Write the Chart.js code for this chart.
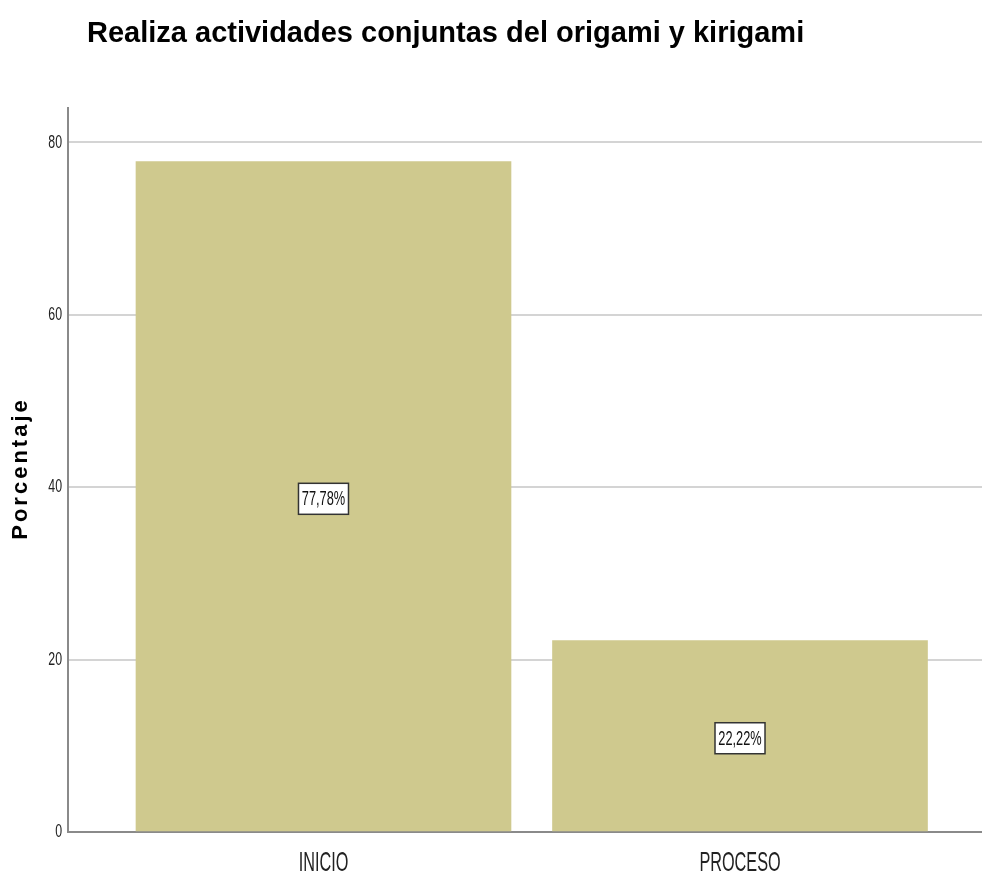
<!DOCTYPE html>
<html>
<head>
<meta charset="utf-8">
<script src="https://cdn.jsdelivr.net/npm/chart.js@4/dist/chart.umd.min.js"></script>
<style>
  html, body { margin: 0; padding: 0; background: #fff; }
  #wrap { position: relative; width: 982px; height: 876px; }
  #title { position: absolute; left: 87px; top: 15px; line-height: 34px; font-family: "Liberation Sans", Arial, sans-serif; font-weight: bold; font-size: 29px; color: #000; white-space: nowrap; }
</style>
</head>
<body>
<div id="wrap">
  <canvas id="c" width="982" height="876"></canvas>
  <div id="title">Realiza actividades conjuntas del origami y kirigami</div>
</div>
<script>
const categories = ["INICIO", "PROCESO"];
const percentages = [77.78, 22.22];
const yTicks = [0, 20, 40, 60, 80];
const yAxisTitle = "Porcentaje";

const sans = '"Liberation Sans", Arial, sans-serif';

function narrowText(ctx, txt, x, y, size, sx, align) {
  ctx.save();
  ctx.font = size + 'px ' + sans;
  ctx.textBaseline = 'middle';
  ctx.textAlign = align;
  ctx.translate(x, y);
  ctx.scale(sx, 1);
  ctx.fillText(txt, 0, 0);
  ctx.restore();
}

const textPlugin = {
  id: 'narrowTexts',
  afterDraw(chart) {
    const ctx = chart.ctx;
    const xs = chart.scales.x, ys = chart.scales.y;
    ctx.fillStyle = '#222';
    // y tick labels
    ys.ticks.forEach(t => {
      narrowText(ctx, String(t.value), xs.left - 6, ys.getPixelForValue(t.value), 19, 0.65, 'right');
    });
    // x category labels
    xs.ticks.forEach(t => {
      narrowText(ctx, categories[Math.round(t.value) - 1], xs.getPixelForValue(t.value), ys.bottom + 31, 28, 0.58, 'center');
    });
    // y axis title
    ctx.save();
    ctx.translate(21, (ys.top + ys.bottom) / 2);
    ctx.rotate(-Math.PI / 2);
    ctx.font = 'bold 22px ' + sans;
    ctx.letterSpacing = '3px';
    ctx.textAlign = 'center';
    ctx.textBaseline = 'middle';
    ctx.fillStyle = '#000';
    ctx.fillText(yAxisTitle, 1.5, 0);
    ctx.restore();
    // value boxes
    const meta = chart.getDatasetMeta(0);
    meta.data.forEach((bar, i) => {
      const v = percentages[i];
      const txt = v.toFixed(2).replace('.', ',') + '%';
      const cx = bar.x;
      const cy = ys.getPixelForValue(v / 2) + 2;
      const w = 50, h = 31;
      ctx.save();
      ctx.fillStyle = '#ffffff';
      ctx.fillRect(cx - w / 2, cy - h / 2, w, h);
      ctx.strokeStyle = '#333';
      ctx.lineWidth = 1.5;
      ctx.strokeRect(cx - w / 2, cy - h / 2, w, h);
      ctx.restore();
      ctx.fillStyle = '#111';
      narrowText(ctx, txt, cx, cy + 1, 20, 0.64, 'center');
    });
  }
};

new Chart(document.getElementById('c'), {
  type: 'bar',
  data: {
    datasets: [{
      data: percentages.map((v, i) => ({ x: i + 1, y: v })),
      backgroundColor: '#cfc98e',
      borderWidth: 0,
      barThickness: 375
    }]
  },
  options: {
    responsive: false,
    animation: false,
    layout: { padding: { top: 108, right: 0, left: 0, bottom: 0 } },
    plugins: { legend: { display: false }, tooltip: { enabled: false }, title: { display: false } },
    scales: {
      x: {
        type: 'linear',
        offset: false,
        min: 0.3866,
        max: 2.581,
        afterBuildTicks(scale) { scale.ticks = categories.map((c, i) => ({ value: i + 1 })); },
        afterFit(scale) { scale.height = 44; },
        ticks: { display: false },
        grid: { display: false, drawTicks: false, offset: false },
        border: { display: true, color: '#8a8a8a', width: 2 }
      },
      y: {
        min: 0,
        max: 84,
        afterBuildTicks(scale) { scale.ticks = yTicks.map(v => ({ value: v })); },
        afterFit(scale) { scale.width = 68; },
        ticks: { display: false },
        grid: { color: '#d4d4d4', lineWidth: 2, drawTicks: false },
        border: { display: true, color: '#8a8a8a', width: 2 }
      }
    }
  },
  plugins: [textPlugin]
});
</script>
</body>
</html>
